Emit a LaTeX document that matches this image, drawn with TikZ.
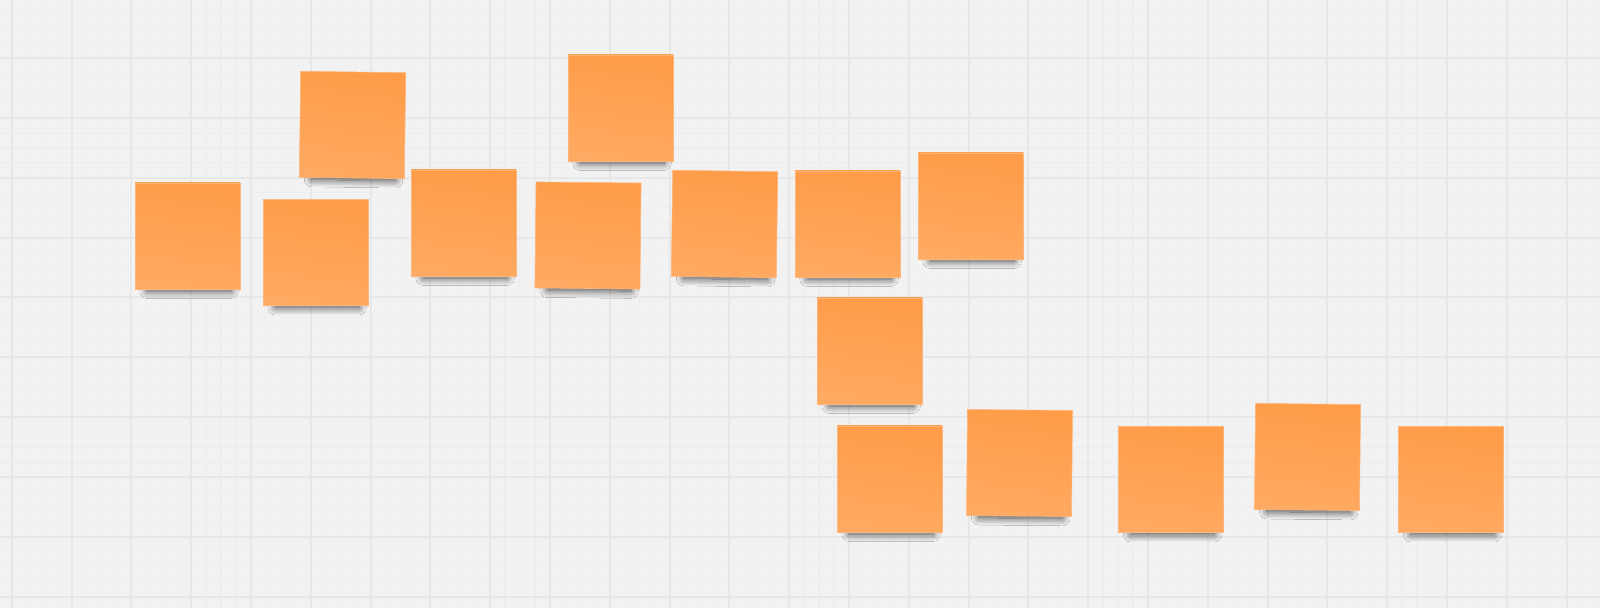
\documentclass[tikz,border=0pt]{standalone}
\usetikzlibrary{shadows.blur}
\definecolor{board}{HTML}{F2F2F2}
\definecolor{minorline}{HTML}{EEEEEE}
\definecolor{majorline}{HTML}{E7E7E7}
\definecolor{notetop}{HTML}{FE9C48}
\definecolor{notebottom}{HTML}{FFAA62}
\definecolor{noteedge}{HTML}{FFB57A}
\begin{document}
\begin{tikzpicture}
        [x=0.5pt, y=-0.5pt,
        minor/.style={minorline, line width=0.6pt},
        major/.style={majorline, line width=1pt},
        sticky/.style={minimum width=52.5pt, minimum height=53pt, inner sep=0pt,
            top color=notetop, bottom color=notebottom, shading angle=-8,
            draw=noteedge, line width=0.3pt,
            blur shadow={shadow xshift=1pt, shadow yshift=-8pt, shadow scale=0.8,
                shadow opacity=70, shadow blur radius=4.5pt, shadow blur steps=14}}]

        \fill [board, use as bounding box] (0,0) rectangle (1600,608);

        % grid
        \foreach \k in {-1,...,26}
            \foreach \j in {1,2,3}
                \draw [minor] (11.7+\k*59.8+\j*14.95,0) -- (11.7+\k*59.8+\j*14.95,608);
        \foreach \k in {-1,...,9}
            \foreach \j in {1,2,3}
                \draw [minor] (0,58.3+\k*59.8+\j*14.95) -- (1600,58.3+\k*59.8+\j*14.95);
        \foreach \k in {0,...,26}
            \draw [major] (11.7+\k*59.8,0) -- (11.7+\k*59.8,608);
        \foreach \k in {-1,...,9}
            \draw [major] (0,58.3+\k*59.8) -- (1600,58.3+\k*59.8);

        % upper row
        \node [sticky] (note1) at (187.5,236) {};
        \node [sticky] (note2) at (315.5,252.5) {};
        \node [sticky, rotate=-0.8] (note3) at (352.5,125) {};
        \node [sticky] (note4) at (463.5,223) {};
        \node [sticky, rotate=-0.6] (note5) at (588,235.5) {};
        \node [sticky] (note6) at (620.5,108) {};
        \node [sticky, rotate=-0.8] (note7) at (724.5,224) {};
        \node [sticky] (note8) at (847.5,224) {};
        \node [sticky] (note9) at (970.5,206) {};

        \node [sticky] (note10) at (869.5,351) {};

        % lower row
        \node [sticky] (note11) at (889.5,479) {};
        \node [sticky, rotate=-0.5] (note12) at (1019.5,463) {};
        \node [sticky] (note13) at (1171,479.5) {};
        \node [sticky, rotate=-0.6] (note14) at (1307.5,457) {};
        \node [sticky] (note15) at (1451,479.5) {};
    \end{tikzpicture}
\end{document}
